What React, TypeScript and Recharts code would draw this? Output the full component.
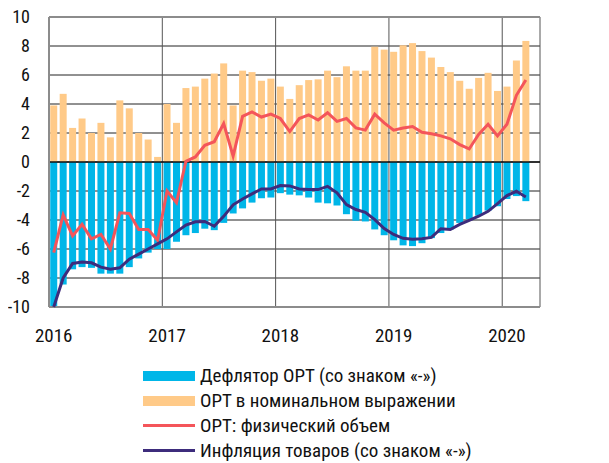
import React from "react";
import {
  ComposedChart, Bar, Line, XAxis, YAxis, CartesianGrid, ReferenceLine,
} from "recharts";

const years = ["2016", "2017", "2018", "2019", "2020"];

// ОРТ дефлятор (со знаком «-»), % г/г
const deflator = [
  -10.0, -8.45, -7.4, -7.25, -7.3, -7.7, -7.7, -7.7, -7.25, -6.65, -6.25, -6.0,
  -6.0, -5.5, -5.05, -4.9, -4.6, -4.7, -4.2, -3.55, -3.2, -2.8, -2.5, -2.45,
  -2.15, -2.25, -2.3, -2.45, -2.8, -2.85, -3.0, -3.6, -4.05, -4.1, -4.65, -5.05,
  -5.4, -5.75, -5.8, -5.6, -5.25, -4.9, -4.65, -4.2, -3.95, -3.7, -3.35, -3.05,
  -2.55, -2.35, -2.7,
];

const nominal = [
  3.9, 4.7, 2.35, 3.0, 2.0, 2.7, 1.7, 4.25, 3.7, 2.0, 1.55, 0.35,
  4.0, 2.7, 5.1, 5.2, 5.75, 6.1, 6.8, 3.9, 6.3, 6.2, 5.6, 5.75,
  5.2, 4.35, 5.3, 5.65, 5.7, 6.3, 5.85, 6.6, 6.3, 6.3, 7.95, 7.75,
  7.6, 8.05, 8.2, 7.65, 7.2, 6.55, 6.2, 5.6, 5.05, 5.8, 6.15, 4.9,
  5.2, 7.0, 8.35,
];

const physical = [
  -6.25, -3.65, -5.1, -4.3, -5.3, -5.0, -6.0, -3.5, -3.55, -4.65, -4.65, -5.4,
  -2.0, -2.8, 0.05, 0.35, 1.15, 1.4, 2.65, 0.4, 3.15, 3.45, 3.1, 3.3,
  3.0, 2.1, 3.0, 3.25, 2.9, 3.4, 2.8, 3.0, 2.35, 2.2, 3.3, 2.7,
  2.2, 2.35, 2.45, 2.05, 1.95, 1.8, 1.6, 1.2, 0.9, 1.9, 2.6, 1.8,
  2.6, 4.6, 5.65,
];

const inflation = [
  -10.0, -8.0, -7.0, -6.9, -6.95, -7.25, -7.4, -7.3, -6.7, -6.35, -6.0, -5.65,
  -5.3, -4.82, -4.35, -4.12, -4.1, -4.43, -3.75, -2.95, -2.55, -2.2, -1.86, -1.86,
  -1.62, -1.65, -1.86, -1.9, -1.9, -1.68, -2.13, -2.94, -3.28, -3.47, -3.97, -4.59,
  -5.0, -5.26, -5.32, -5.3, -5.2, -4.6, -4.66, -4.3, -4.02, -3.74, -3.4, -2.87,
  -2.32, -2.02, -2.41,
];

const yTicks = [-10, -8, -6, -4, -2, 0, 2, 4, 6, 8, 10];

const COLORS = {
  deflator: "#00b6e8",
  nominal: "#ffca88",
  physical: "#f4555a",
  inflation: "#3d2c7c",
};

// 52 monthly slots: Jan 2016 .. Apr 2020 (last one empty)
const months = years
  .flatMap((y) => Array.from({ length: 12 }, (_, m) => `${y}-${String(m + 1).padStart(2, "0")}`))
  .slice(0, 52);

const data = months.map((month, i) => ({
  month,
  pos: i + 0.5,
  deflator: deflator[i] ?? null,
  nominal: nominal[i] ?? null,
  physical: physical[i] ?? null,
  inflation: inflation[i] ?? null,
}));

const yearTicks = years.map((y) => `${y}-01`);
const FONT = "'Liberation Sans Narrow', 'Roboto Condensed', Roboto, sans-serif";

const legendItems = [
  { label: "Дефлятор ОРТ (со знаком «-»)", color: COLORS.deflator, kind: "bar" },
  { label: "ОРТ в номинальном выражении", color: COLORS.nominal, kind: "bar" },
  { label: "ОРТ: физический объем", color: COLORS.physical, kind: "line" },
  { label: "Инфляция товаров (со знаком «-»)", color: COLORS.inflation, kind: "line" },
];

// the svg starts 6px above the body margin so the top "10" label has room
export default function App() {
  return (
    <div style={{ position: "relative", width: 593, height: 461, marginTop: -6, fontFamily: FONT }}>
      <ComposedChart
        width={593}
        height={461}
        data={data}
        stackOffset="sign"
        barCategoryGap="13%"
        margin={{ top: 15, right: 61, bottom: 126, left: 0 }}
      >
        <CartesianGrid vertical={false} stroke="#222" />
        <CartesianGrid horizontal={false} xAxisId="num" stroke="#555" />
        <XAxis
          dataKey="month"
          ticks={yearTicks}
          interval={0}
          tickFormatter={(v: string) => v.slice(0, 4)}
          axisLine={false}
          tickLine={false}
          tickSize={0}
          tickMargin={22}
          height={30}
          tick={{ fontSize: 19, fill: "#111", fontFamily: FONT }}
        />
        <XAxis xAxisId="num" dataKey="pos" type="number" domain={[0, 52]} ticks={[0, 12, 24, 36, 48]} hide />
        <YAxis
          domain={[-10, 10]}
          ticks={yTicks}
          interval={0}
          axisLine={false}
          tickLine={false}
          tickSize={0}
          tickMargin={19}
          width={41}
          tick={{ fontSize: 18, fill: "#111", fontFamily: FONT }}
        />
        <Bar dataKey="deflator" stackId="a" fill={COLORS.deflator} isAnimationActive={false} />
        <Bar dataKey="nominal" stackId="a" fill={COLORS.nominal} isAnimationActive={false} />
        <ReferenceLine y={0} stroke="#111" strokeWidth={1.5} />
        <ReferenceLine y={10} stroke="#8c8c8c" strokeWidth={2} />
        <ReferenceLine y={-10} stroke="#8c8c8c" strokeWidth={2} />
        <ReferenceLine x={0} xAxisId="num" stroke="#8c8c8c" strokeWidth={2} />
        <Line dataKey="physical" type="linear" stroke={COLORS.physical} strokeWidth={3} dot={false} isAnimationActive={false} />
        <Line dataKey="inflation" type="linear" stroke={COLORS.inflation} strokeWidth={3} dot={false} isAnimationActive={false} />
      </ComposedChart>
      <div style={{ position: "absolute", left: 135, top: 361 }}>
        {legendItems.map((it) => (
          <div key={it.label} style={{ display: "flex", alignItems: "center", height: 25 }}>
            <div style={{ width: 52, display: "flex", alignItems: "center" }}>
              <div
                style={{
                  width: 52,
                  height: it.kind === "bar" ? 10 : 3,
                  background: it.color,
                }}
              />
            </div>
            <span style={{ marginLeft: 5, fontSize: 19, color: "#111", whiteSpace: "nowrap" }}>{it.label}</span>
          </div>
        ))}
      </div>
    </div>
  );
}
